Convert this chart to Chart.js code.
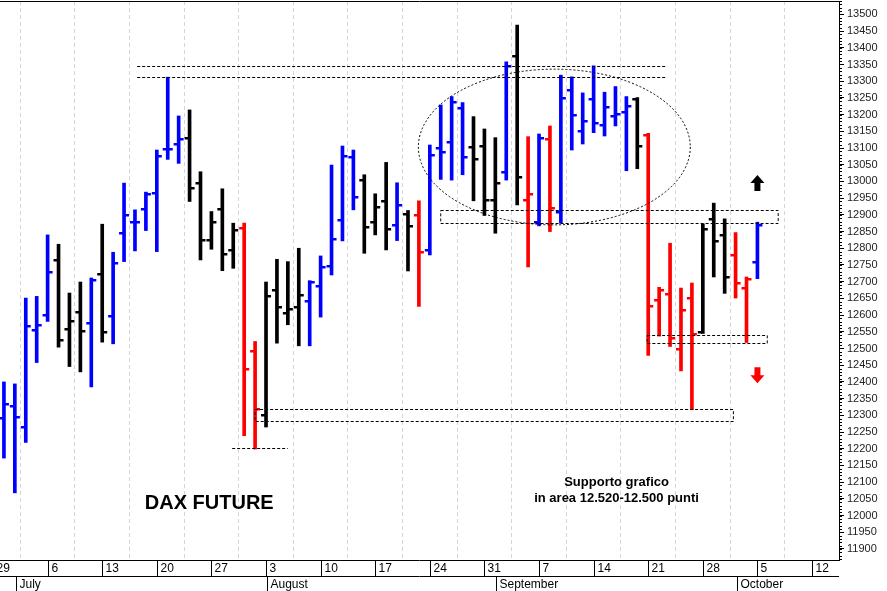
<!DOCTYPE html>
<html><head><meta charset="utf-8">
<script src="https://cdn.jsdelivr.net/npm/chart.js@4.4.1/dist/chart.umd.min.js"></script>
<style>html,body{margin:0;padding:0;background:#fff}#wrap{width:887px;height:591px}</style>
</head><body><div id="wrap"><canvas id="c"></canvas></div>
<script>
// trading-day index (0 = 29 June) of each bar
const idx = [1,2,3,4,5,6,7,8,9,10,11,12,13,14,15,16,17,18,19,20,21,22,23,24,25,26,27,28,29,30,31,32,33,34,35,36,37,38,39,40,41,42,43,44,45,46,47,48,49,50,51,52,53,54,55,56,57,58,59,60,61,62,63,64,65,66,67,68,69,70];
const opens = [12292,12327,12265,12556,12601,12765,12558,12609,12576,12724,12596,12847,12878,12918,12965,13096,13111,13129,12995,12825,12917,12795,12860,12493,12302,12674,12606,12624,12641,12688,12747,12885,13072,13003,12880,12940,12870,12902,12900,12795,13099,13119,13219,13102,13106,12945,13029,13375,12945,12880,13127,12910,13274,13151,13246,13169,13196,13209,13246,13139,12646,12663,12497,12650,12548,12887,12840,12780,12681,12760];
const highs = [12400,12394,12651,12656,12840,12812,12666,12699,12711,12872,12788,12995,12915,12968,13094,13312,13196,13214,13029,12910,12978,12875,12875,12521,12699,12767,12760,12800,12703,12777,13049,13106,13094,13020,12963,13057,12996,12913,12942,13109,13229,13254,13236,13194,13157,13131,13358,13468,13134,13142,13166,13318,13313,13265,13346,13267,13284,13254,13251,13144,12683,12815,12681,12696,12873,12935,12888,12847,12714,12878];
const lows = [12172,12068,12219,12458,12581,12504,12446,12430,12385,12519,12514,12760,12792,12853,12790,13066,13054,12940,12765,12797,12733,12740,12239,12199,12265,12516,12571,12508,12508,12594,12720,12822,12915,12785,12840,12795,12823,12732,12626,12780,13006,13004,13020,12942,12898,12845,13004,12930,12744,12867,12850,12875,13094,13112,13146,13136,13166,13032,13038,12479,12537,12506,12433,12317,12545,12714,12665,12651,12518,12709];
const closes = [12335,12295,12566,12571,12729,12526,12583,12553,12706,12549,12755,12901,12878,12963,13077,13096,13126,12980,12825,12878,12782,12855,12439,12319,12658,12624,12618,12659,12700,12745,12828,13077,12953,12863,12922,12857,12930,12868,12790,13079,13089,13239,13074,13066,12945,12995,13345,13014,12963,13129,12920,13249,13200,13181,13176,13224,13202,13226,13106,12626,12675,12531,12616,12544,12857,12823,12714,12695,12709,12870];
// colour code per bar: b = blue, k = black, r = red
const kinds = "bbbbb"+"kkk"+"b"+"k"+"b"+"bbbbbb"+"kkkkk"+"rr"+"kkkk"+"bbbbb"+"kkk"+"b"+"k"+"r"+"bbbb"+"kkk"+"b"+"k"+"r"+"b"+"r"+"bbbbbbb"+"k"+"rrrrr"+"kkk"+"rr"+"b";
const weekLabels = ["29","6","13","20","27","3","10","17","24","31","7","14","21","28","5","12"];
const weekIdx = [0,5,10,15,20,25,30,35,40,45,50,55,60,65,70,75];
const monthLabels = ["July","August","September","October"];
const monthIdx = [2.1,25.1,46.1,68.1];
const yTicks = []; for (let v = 11900; v <= 13500; v += 50) yTicks.push(v);
// annotations (data units)
const resLines = [13345,13313]; const resFrom = 13.2, resTo = 61.7;
const boxes = [[41.0,71.9,12913,12875],[59.9,70.9,12541,12515],[24.0,67.8,12319,12284]];
const lowLine = [21.9,27.0,12202];
const ellipse = [51.4,13103,12.45,233];
const arrowUp = [70,12995], arrowDown = [70,12420];

const COL = {b:'#0000ff',k:'#000000',r:'#ff0000'};
const colors = kinds.split('').map(k=>COL[k]);

const ohlcPlugin = {
  id:'ohlc',
  afterDatasetsDraw(ch){
    const {ctx,scales:{x,y}} = ch;
    ctx.save();
    ctx.beginPath(); ctx.rect(ch.chartArea.left,ch.chartArea.top,ch.chartArea.right-ch.chartArea.left,ch.chartArea.bottom-ch.chartArea.top); ctx.clip();
    idx.forEach((d,i)=>{
      const px = x.getPixelForValue(d);
      ctx.fillStyle = colors[i];
      const yo = Math.round(y.getPixelForValue(opens[i])), yc = Math.round(y.getPixelForValue(closes[i]));
      ctx.fillRect(px-5, yo-1, 5, 2.5);
      ctx.fillRect(px, yc-1, 5, 2.5);
    });
    ctx.strokeStyle='#000'; ctx.lineWidth=1; ctx.setLineDash([3,2]);
    resLines.forEach(v=>{const py=Math.round(y.getPixelForValue(v))+0.5;ctx.beginPath();ctx.moveTo(x.getPixelForValue(resFrom),py);ctx.lineTo(x.getPixelForValue(resTo),py);ctx.stroke();});
    boxes.forEach(b=>{const x1=x.getPixelForValue(b[0]),x2=x.getPixelForValue(b[1]),y1=Math.round(y.getPixelForValue(b[2]))+0.5,y2=Math.round(y.getPixelForValue(b[3]))+0.5;ctx.strokeRect(x1,y1,x2-x1,y2-y1);});
    {const py=Math.round(y.getPixelForValue(lowLine[2]))+0.5;ctx.beginPath();ctx.moveTo(x.getPixelForValue(lowLine[0]),py);ctx.lineTo(x.getPixelForValue(lowLine[1]),py);ctx.stroke();}
    {const cx=x.getPixelForValue(ellipse[0]),cy=y.getPixelForValue(ellipse[1]);const rx=x.getPixelForValue(ellipse[0]+ellipse[2])-cx;const ry=cy-y.getPixelForValue(ellipse[1]+ellipse[3]);ctx.setLineDash([2,2]);ctx.beginPath();ctx.ellipse(cx,cy,rx,ry,0,0,Math.PI*2);ctx.stroke();}
    ctx.setLineDash([]);
    const arrow=(a,up,col)=>{const cx=x.getPixelForValue(a[0]),cy=y.getPixelForValue(a[1]);ctx.fillStyle=col;ctx.beginPath();
      const s=up?1:-1;
      ctx.moveTo(cx,cy-8*s);ctx.lineTo(cx+7,cy);ctx.lineTo(cx+3,cy);ctx.lineTo(cx+3,cy+8*s);ctx.lineTo(cx-3,cy+8*s);ctx.lineTo(cx-3,cy);ctx.lineTo(cx-7,cy);
      ctx.closePath();ctx.fill();};
    arrow(arrowUp,true,'#000'); arrow(arrowDown,false,'#ff0000');
    ctx.fillStyle='#000'; ctx.textAlign='center'; ctx.textBaseline='middle';
    ctx.font='bold 20px Arial, "Liberation Sans"';
    ctx.fillText('DAX FUTURE', x.getPixelForValue(19.8), y.getPixelForValue(12036));
    ctx.font='bold 13px Arial, "Liberation Sans"';
    ctx.fillText('Supporto grafico', x.getPixelForValue(57.1), y.getPixelForValue(12098));
    ctx.fillText('in area 12.520-12.500 punti', x.getPixelForValue(57.1), y.getPixelForValue(12052));
    ctx.restore();
    const a = ch.chartArea;
    ctx.save(); ctx.strokeStyle='#000'; ctx.lineWidth=1;
    ctx.beginPath(); ctx.moveTo(0,a.top+0.5); ctx.lineTo(a.right,a.top+0.5); ctx.stroke();
    ctx.beginPath(); ctx.moveTo(0,a.bottom+0.5); ctx.lineTo(a.right,a.bottom+0.5);
    ctx.moveTo(0,a.bottom+16.5); ctx.lineTo(a.right,a.bottom+16.5); ctx.stroke();
    ctx.fillStyle='#000'; ctx.font='12px Arial, "Liberation Sans"'; ctx.textAlign='left'; ctx.textBaseline='middle';
    weekIdx.forEach((w,i)=>{const px=Math.round(x.getPixelForValue(w))+0.5; if(px>0){ctx.beginPath();ctx.moveTo(px,a.bottom);ctx.lineTo(px,a.bottom+16);ctx.stroke();}
      ctx.fillText(weekLabels[i], px+3, a.bottom+9);});
    monthIdx.forEach((m,i)=>{const px=Math.round(x.getPixelForValue(m))+0.5; ctx.beginPath();ctx.moveTo(px,a.bottom+16);ctx.lineTo(px,a.bottom+31);ctx.stroke();
      ctx.fillText(monthLabels[i], px+3, a.bottom+25);});
    for(let v=11870; v<=13540; v+=10){const py=Math.round(y.getPixelForValue(v))+0.5; ctx.beginPath(); ctx.moveTo(a.right,py); ctx.lineTo(a.right+3,py); ctx.stroke();}
    ctx.restore();
  }
};

new Chart(document.getElementById('c'),{
  type:'bar',
  data:{datasets:[{data: idx.map((d,i)=>({x:d,y:[lows[i],highs[i]]})), backgroundColor: colors, barThickness:3, borderWidth:0, borderSkipped:false}]},
  options:{
    responsive:true, maintainAspectRatio:false, animation:false,
    layout:{padding:{top:1,bottom:31,left:0,right:0}},
    plugins:{legend:{display:false},tooltip:{enabled:false}},
    scales:{
      x:{type:'linear', min:0.64, max:77.47, offset:false,
        afterBuildTicks:s=>{s.ticks=weekIdx.map(v=>({value:v}));},
        afterFit:s=>{s.height=0;s.paddingLeft=0;s.paddingRight=0;},
        ticks:{display:false}, border:{display:false, dash:[4,3]},
        grid:{color:'#d4d4de', drawTicks:false}
      },
      y:{position:'right', min:11867, max:13540,
        afterBuildTicks:s=>{s.ticks=yTicks.map(v=>({value:v}));},
        afterFit:s=>{s.width=48;s.paddingTop=0;s.paddingBottom=0;},
        ticks:{color:'#222', font:{family:'Arial, "Liberation Sans"', size:11}, padding:3, autoSkip:false, callback:v=>String(v)},
        grid:{drawOnChartArea:false, tickLength:5, color:'#000'},
        border:{color:'#000', width:1}
      }
    }
  },
  plugins:[ohlcPlugin]
});
</script></body></html>
